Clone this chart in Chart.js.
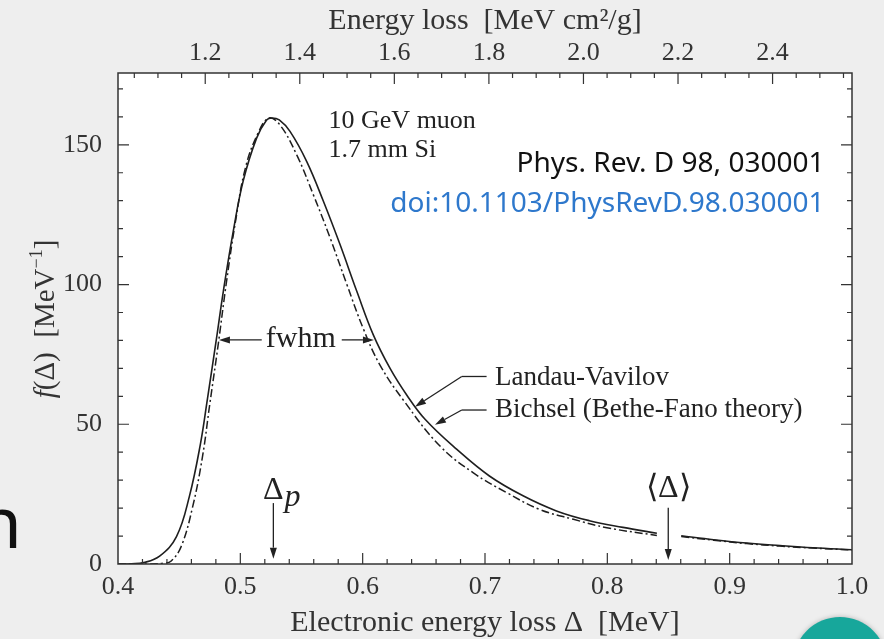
<!DOCTYPE html>
<html>
<head>
<meta charset="utf-8">
<script src="https://cdn.jsdelivr.net/npm/chart.js@4.4.1/dist/chart.umd.min.js"></script>
<style>
  html, body { margin: 0; padding: 0; background: #eeeeee; }
</style>
</head>
<body>
<canvas id="eloss" width="884" height="639"></canvas>
<script>
// Bichsel (Bethe-Fano theory), solid line
const bichselX = [0.400, 0.411, 0.421, 0.434, 0.4478, 0.4584, 0.4674, 0.4729, 0.4806, 0.4861, 0.4942, 0.5023, 0.5133, 0.5215, 0.5258, 0.5318, 0.5406, 0.5543, 0.5679, 0.5815, 0.5952, 0.6087, 0.6224, 0.636, 0.651, 0.677, 0.7036, 0.7311, 0.7584, 0.7853, 0.8128, 0.8405, 0.850, 0.8604, 0.887, 0.914, 0.941, 0.968, 1.000];
const bichselY = [0, 0.1, 0.5, 2.8, 9.8, 24.3, 43, 58.5, 81, 97.6, 119, 137, 152.4, 158.9, 159.6, 158.9, 154.8, 144, 129.8, 114.3, 97.6, 82, 70, 60.5, 51.8, 41, 31.5, 24.4, 19, 15.5, 13.1, 11.0, null, 10.1, 8.7, 7.5, 6.6, 5.8, 5.1];

// Landau-Vavilov, dash-dot line
const landauX = [0.400, 0.4255, 0.4375, 0.4435, 0.4517, 0.4611, 0.4691, 0.4749, 0.4819, 0.4887, 0.4962, 0.5043, 0.5143, 0.5233, 0.5324, 0.5461, 0.5598, 0.5734, 0.5871, 0.6007, 0.6144, 0.6335, 0.663, 0.6905, 0.7179, 0.7448, 0.7723, 0.7996, 0.8405, 0.850, 0.8604, 0.887, 0.914, 0.941, 0.968, 1.000];
const landauY = [0, 0, 0.3, 1.1, 6.3, 20.6, 38.5, 56.8, 78.5, 101, 123, 142, 154, 159.6, 157.1, 146.4, 132, 116.7, 100, 84, 71, 58.5, 42.3, 32.6, 25.5, 19.5, 16.0, 13.0, 10.2, null, 9.8, 8.5, 7.3, 6.4, 5.7, 5.0];

// axis ranges
const deltaRange = [0.4, 1.0];          // Electronic energy loss [MeV]
const massRange = [1.0155, 2.568];      // Energy loss [MeV cm2/g] (top axis)
const fRange = [0, 175.7];

const serif = '"Liberation Serif", "Times New Roman", serif';

function toPoints(xs, ys) {
  return xs.map((x, i) => ({ x: x, y: ys[i] }));
}

function arrowHead(ctx, x1, y1, x2, y2) {
  var ang = Math.atan2(y2 - y1, x2 - x1), hl = 11, hw = 3.5;
  var bx = x2 - hl * Math.cos(ang), by = y2 - hl * Math.sin(ang);
  ctx.beginPath();
  ctx.moveTo(x1, y1);
  ctx.lineTo(bx, by);
  ctx.stroke();
  ctx.beginPath();
  ctx.moveTo(x2, y2);
  ctx.lineTo(bx + hw * Math.sin(ang), by - hw * Math.cos(ang));
  ctx.lineTo(bx - hw * Math.sin(ang), by + hw * Math.cos(ang));
  ctx.closePath();
  ctx.fill();
}

const decorations = {
  id: 'decorations',
  beforeDraw(chart) {
    var ctx = chart.ctx, a = chart.chartArea;
    ctx.save();
    ctx.fillStyle = '#ffffff';
    ctx.fillRect(a.left, a.top, a.right - a.left, a.bottom - a.top);
    ctx.restore();
  },
  afterDatasetsDraw(chart) {
    var ctx = chart.ctx, a = chart.chartArea;
    var sx = chart.scales.x, sx2 = chart.scales.x2, sy = chart.scales.y;
    var px = v => sx.getPixelForValue(v), py = v => sy.getPixelForValue(v);
    ctx.save();

    // frame
    ctx.strokeStyle = '#333';
    ctx.lineWidth = 1.5;
    ctx.strokeRect(a.left, a.top, a.right - a.left, a.bottom - a.top);

    // inward ticks
    ctx.lineWidth = 1.2;
    ctx.beginPath();
    for (var i = 21; i < 50; i++) {
      var p = sx.getPixelForValue(i / 50), len = i % 5 === 0 ? 11 : 5;
      ctx.moveTo(p, a.bottom); ctx.lineTo(p, a.bottom - len);
    }
    for (var i = 21; i <= 51; i++) {
      var p = sx2.getPixelForValue(i / 20), len = i % 4 === 0 ? 11 : 5;
      ctx.moveTo(p, a.top); ctx.lineTo(p, a.top + len);
    }
    for (var i = 1; i <= 17; i++) {
      var p = sy.getPixelForValue(i * 10), len = i % 5 === 0 ? 11 : 5;
      ctx.moveTo(a.left, p); ctx.lineTo(a.left + len, p);
      ctx.moveTo(a.right, p); ctx.lineTo(a.right - len, p);
    }
    ctx.stroke();

    // text labels
    ctx.fillStyle = '#222';
    ctx.strokeStyle = '#222';
    ctx.lineWidth = 1.3;
    ctx.font = '26px ' + serif;
    ctx.textBaseline = 'alphabetic';
    ctx.textAlign = 'left';
    ctx.fillText('10 GeV muon', px(0.5721), py(156.1));
    ctx.fillText('1.7 mm Si', px(0.5721), py(145.7));
    ctx.font = '27px ' + serif;
    ctx.fillText('Landau-Vavilov', px(0.7082), py(64.1));
    ctx.fillText('Bichsel (Bethe-Fano theory)', px(0.7082), py(52.5));

    ctx.textAlign = 'center';
    ctx.font = '30px ' + serif;
    ctx.fillText('fwhm', px(0.5494), py(77.6));
    arrowHead(ctx, px(0.5175), py(80.2), px(0.4825), py(80.2));
    arrowHead(ctx, px(0.5829), py(80.2), px(0.6092), py(80.2));

    // leader lines
    ctx.beginPath();
    ctx.moveTo(px(0.7013), py(67.1));
    ctx.lineTo(px(0.6810), py(67.1));
    ctx.stroke();
    arrowHead(ctx, px(0.6810), py(67.1), px(0.6428), py(56.3));
    ctx.beginPath();
    ctx.moveTo(px(0.7013), py(55.1));
    ctx.lineTo(px(0.6810), py(55.1));
    ctx.stroke();
    arrowHead(ctx, px(0.6810), py(55.1), px(0.6591), py(49.8));

    // most probable and mean energy loss
    ctx.textAlign = 'left';
    ctx.font = '32px ' + serif;
    ctx.fillText('Δ', px(0.5185), py(23.2));
    var dw = ctx.measureText('Δ').width;
    ctx.font = 'italic 32px ' + serif;
    ctx.fillText('p', px(0.5185) + dw + 1, py(20.6));
    arrowHead(ctx, px(0.527), py(21.8), px(0.527), py(1.9));

    ctx.textAlign = 'center';
    ctx.font = '32px ' + serif;
    ctx.fillText('⟨Δ⟩', px(0.8498), py(24.1));
    arrowHead(ctx, px(0.8498), py(20.1), px(0.8498), py(1.4));

    // reference
    ctx.textAlign = 'right';
    ctx.font = '28px "Noto Sans"';
    ctx.fillStyle = '#111';
    ctx.fillText('Phys. Rev. D 98, 030001', px(0.9775), py(140.4));
    ctx.fillStyle = '#2e78cc';
    ctx.fillText('doi:10.1103/PhysRevD.98.030001', px(0.9775), py(125.8));
    ctx.restore();
  },
  afterDraw(chart) {
    var ctx = chart.ctx;
    ctx.save();
    // y axis title with italic f
    ctx.translate(54, 319);
    ctx.rotate(-Math.PI / 2);
    ctx.fillStyle = '#333';
    ctx.textBaseline = 'alphabetic';
    ctx.textAlign = 'left';
    var parts = [
      { t: 'f', f: 'italic 29px ' + serif, dy: 0 },
      { t: '(Δ)  [MeV', f: '29px ' + serif, dy: 0 },
      { t: '−1', f: '18px ' + serif, dy: -12 },
      { t: ']', f: '29px ' + serif, dy: 0 }
    ];
    var total = 0;
    parts.forEach(p => { ctx.font = p.f; p.w = ctx.measureText(p.t).width; total += p.w; });
    var x0 = -total / 2;
    parts.forEach(p => { ctx.font = p.f; ctx.fillText(p.t, x0, p.dy); x0 += p.w; });
    ctx.restore();

    // slide residue
    ctx.save();
    ctx.fillStyle = '#111';
    ctx.font = '72px "Noto Sans"';
    ctx.textAlign = 'right';
    ctx.fillText('n', 22, 548);
    ctx.shadowColor = 'rgba(0,0,0,0.25)';
    ctx.shadowBlur = 5;
    ctx.fillStyle = '#17a79b';
    ctx.beginPath();
    ctx.arc(840, 664, 47, 0, Math.PI * 2);
    ctx.fill();
    ctx.restore();
  }
};

const tickFont = { family: serif, size: 26 };
const titleFont = { family: serif, size: 30, lineHeight: 1 };

new Chart(document.getElementById('eloss'), {
  type: 'line',
  data: {
    datasets: [
      {
        label: 'Bichsel (Bethe-Fano theory)',
        data: toPoints(bichselX, bichselY),
        borderColor: '#1e1e1e',
        borderWidth: 1.6,
        pointRadius: 0,
        tension: 0.4,
        spanGaps: false
      },
      {
        label: 'Landau-Vavilov',
        data: toPoints(landauX, landauY),
        borderColor: '#1e1e1e',
        borderWidth: 1.5,
        borderDash: [8, 3, 2, 3],
        pointRadius: 0,
        tension: 0.4,
        spanGaps: false
      }
    ]
  },
  options: {
    responsive: false,
    animation: false,
    layout: { padding: { left: 0, right: 32, top: 0, bottom: 0 } },
    plugins: {
      legend: { display: false },
      tooltip: { enabled: false }
    },
    scales: {
      x: {
        type: 'linear',
        position: 'bottom',
        min: deltaRange[0],
        max: deltaRange[1],
        grid: { display: false, drawTicks: false },
        border: { display: false },
        ticks: {
          stepSize: 0.1,
          padding: 8,
          autoSkip: false,
          maxRotation: 0,
          color: '#333',
          font: tickFont,
          callback: v => v.toFixed(1)
        },
        title: {
          display: true,
          text: 'Electronic energy loss Δ  [MeV]',
          color: '#333',
          font: titleFont,
          padding: { top: 0, bottom: 1 }
        },
        afterFit: s => { s.height = 75; }
      },
      x2: {
        type: 'linear',
        position: 'top',
        min: massRange[0],
        max: massRange[1],
        grid: { display: false, drawTicks: false },
        border: { display: false },
        ticks: {
          stepSize: 0.2,
          includeBounds: false,
          padding: 4,
          autoSkip: false,
          maxRotation: 0,
          color: '#333',
          font: tickFont,
          callback: v => Math.abs(v * 5 - Math.round(v * 5)) < 1e-6 ? v.toFixed(1) : ''
        },
        title: {
          display: true,
          text: 'Energy loss  [MeV cm²/g]',
          color: '#333',
          font: titleFont,
          padding: { top: 6, bottom: 0 }
        },
        afterFit: s => { s.height = 73; }
      },
      y: {
        type: 'linear',
        min: fRange[0],
        max: fRange[1],
        grid: { display: false, drawTicks: false },
        border: { display: false },
        ticks: {
          stepSize: 50,
          includeBounds: false,
          padding: 16,
          color: '#333',
          font: tickFont,
          callback: v => v % 50 === 0 ? v : ''
        },
        afterFit: s => { s.width = 118; }
      }
    }
  },
  plugins: [decorations]
});
</script>
</body>
</html>
